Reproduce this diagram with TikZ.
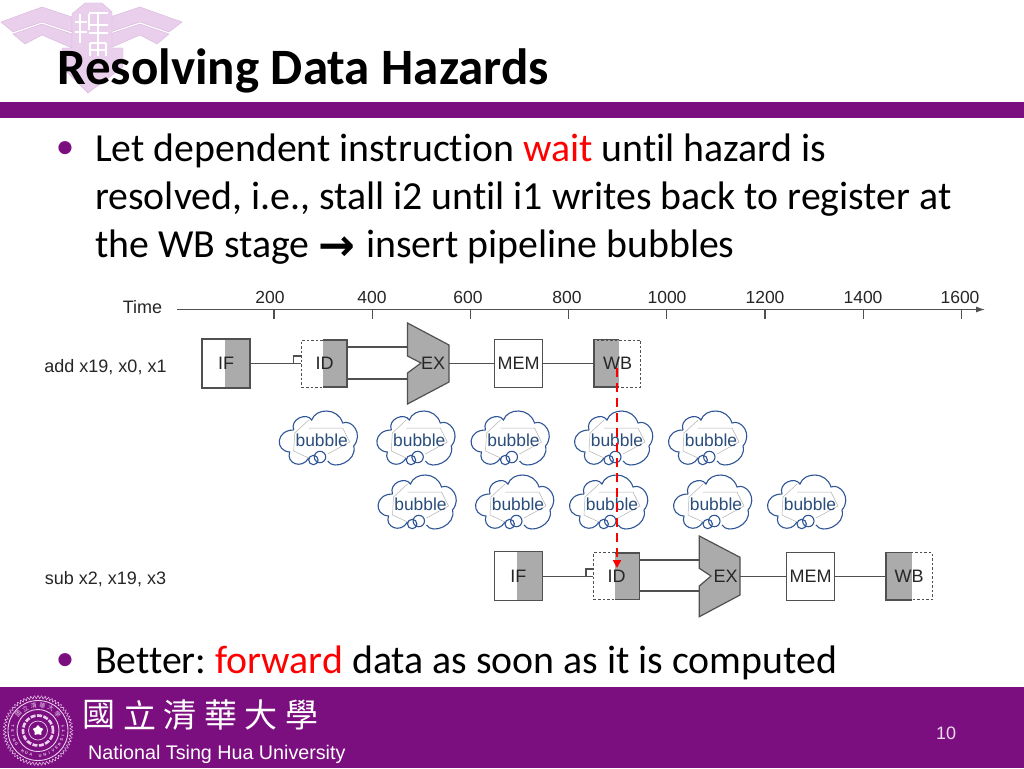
\documentclass[tikz,border=0pt]{standalone}
\usepackage{fontspec}
\setmainfont{Carlito}[Ligatures=CommonOff]
\setsansfont{Liberation Sans}
\newfontfamily\cjkfont{Noto Sans CJK TC}
\newfontfamily\arrowfont{DejaVu Sans}
\usetikzlibrary{arrows.meta}
\usetikzlibrary{shapes.geometric}
\definecolor{nthupurple}{HTML}{7C0F80}
\definecolor{crestpink}{HTML}{E9CFEC}
\definecolor{crestedge}{HTML}{D8B6DD}
\definecolor{stagegray}{HTML}{ABABAB}
\definecolor{linegray}{HTML}{505050}
\definecolor{cloudblue}{HTML}{2F5597}
\definecolor{cloudtext}{HTML}{2A4D7C}
\tikzset{
  bodytext/.style={anchor=base west, inner sep=0pt, font=\fontsize{39.8}{39.8}\selectfont},
  sanslabel/.style={inner sep=0pt, font=\sffamily\fontsize{18}{18}\selectfont, text=black!85},
  ticklabel/.style={inner sep=0pt, font=\sffamily\fontsize{17.5}{17.5}\selectfont, text=black!85},
  stagename/.style={inner sep=0pt, font=\sffamily\fontsize{18}{18}\selectfont, text=black!85},
  stagebox/.style={stagename, draw=linegray, line width=1.2pt, minimum width=#1, minimum height=48pt},
  ghostbox/.style={stagename, draw=linegray, line width=1pt, dash pattern=on 2.5pt off 2pt, minimum width=#1, minimum height=47pt},
  pipe/.style={draw=linegray, line width=1.2pt},
  graypart/.style={fill=stagegray, draw=linegray, line width=1.2pt},
  grayedge/.style={draw=linegray, line width=1.2pt},
  crest/.style={fill=crestpink, draw=crestedge, line width=0.4pt},
  hazard/.style={draw=red, line width=2.1pt, dash pattern=on 9pt off 6pt, -{Triangle[length=8pt,width=8pt]}},
  bubblecloud/.pic={
    \draw [gray!60, line width=0.5pt] (-10,-11) -- (24,-11) -- (31,3) -- (9,15) (-10,19) -- (-25,12) -- (-24,-6) -- (-10,-19);
    \draw [cloudblue, line width=1.1pt] (-25,-9) .. controls (-29,-20) and (-12,-27) .. (-7,-19)
      .. controls (-3,-31) and (19,-32) .. (24,-16) .. controls (33,-20) and (45,-5) .. (35,7)
      .. controls (39,22) and (15,32) .. (9,22);
    \draw [cloudblue, line width=1.1pt] (-10,19) .. controls (-17,31) and (-33,24) .. (-29,13)
      .. controls (-44,12) and (-43,-9) .. (-25,-9);
    \draw [cloudblue, line width=1.1pt, fill=white] (-5.3,21) circle (4.7pt) (1.3,18) circle (5.7pt);
    \node [inner sep=0pt, text=cloudtext, font=\sffamily\fontsize{17.4}{17.4}\selectfont] (-word) at (3,1) {bubble};
  }
}
\frenchspacing
\begin{document}
\begin{tikzpicture}[x=1pt,y=-1pt]
  \useasboundingbox (0,0) rectangle (1024,768);
  \fill [white] (0,0) rectangle (1024,768);
  % crest behind the title
  \draw [crest] (1,22) -- (42,7) -- (72,17) -- (72,32) -- (42,22) -- (13,32) -- cycle;
  \draw [crest] (13,34) -- (42,24) -- (72,34) -- (72,48) -- (42,35) -- (25,44) -- cycle;
  \draw [crest] (182,22) -- (140,7) -- (110,17) -- (110,32) -- (140,22) -- (169,32) -- cycle;
  \draw [crest] (169,34) -- (140,24) -- (110,34) -- (110,48) -- (140,35) -- (157,44) -- cycle;
  \draw [crest] (72,14) -- (85,3) -- (102,3) -- (112,12) -- (112,48) -- (123,48) -- (123,67) -- (88,93) -- (62,67) -- (62,48) -- (72,48) -- cycle;
  \draw [white, line width=2.2pt] (80,14) -- (80,43) (89,14) -- (89,30) (75,22) -- (87,22) (75,32) -- (87,32) (89,13) -- (108,13) (89,25) -- (108,25) (89,33) -- (108,33) (98,13) -- (98,42) (90,43) -- (106,43) (90,43) -- (90,56) (106,43) -- (106,56) (98,43) -- (98,56) (90,50) -- (106,50);
  % title and bands
  \node [anchor=base west, inner sep=0pt, font=\bfseries\fontsize{51}{51}\selectfont] (title) at (57,84) {Resolving Data Hazards};
  \fill [nthupurple] (0,102) rectangle (1024,118);
  \fill [nthupurple] (0,687) rectangle (1024,768);
  % text
  \node [text=nthupurple, inner sep=0pt, font=\fontsize{37}{37}\selectfont] (dotone) at (65,150) {•};
  \node [bodytext] (lineone) at (95,161) {Let dependent instruction \textcolor{red}{wait} until hazard is};
  \node [bodytext] (linetwo) at (95,209) {resolved, i.e., stall i2 until i1 writes back to register at};
  \node [bodytext] (linethree) at (95,257) {the WB stage};
  \node [inner sep=0pt, font=\arrowfont\bfseries\fontsize{44}{44}\selectfont] (arrowmark) at (337,249) {→};
  \node [bodytext] (linefour) at (366,257) {insert pipeline bubbles};
  \node [text=nthupurple, inner sep=0pt, font=\fontsize{37}{37}\selectfont] (dottwo) at (65,662) {•};
  \node [bodytext] (linefive) at (95,673) {Better: \textcolor{red}{forward} data as soon as it is computed};
  % time axis
  \node [sanslabel] (timelabel) at (142.5,307) {Time};
  \coordinate (axisstart) at (177,309.5);
  \coordinate (axisend) at (985,309.5);
  \draw [pipe, -{Latex[length=9pt,width=6pt]}] (axisstart) -- (axisend);
  \foreach \val/\lx [count=\i from 0] in {200/270,400/372,600/468,800/567,1000/667,1200/765,1400/863,1600/960} {
    \node [ticklabel] (tick\i) at (\lx,297) {\val};
    \draw [pipe] (274+\i*98.2,309.5) -- (274+\i*98.2,319);
  }
  % first instruction
  \node [sanslabel] (addlabel) at (105.5,367) {add x19, x0, x1};
  \fill [stagegray] (225,339) rectangle (250,388);
  \node [stagebox=48pt, minimum height=49pt] (ifone) at (226,363.5) {IF};
  \fill [stagegray] (323,340) rectangle (347,387);
  \node [ghostbox=45.5pt] (idone) at (324.5,363.5) {ID};
  \draw [grayedge] (323,340) -- (347,340) -- (347,387) -- (323,387);
  \coordinate (idoneright) at (347,363.5);
  \coordinate (exonetop) at (407.5,323);
  \draw [graypart] (exonetop) -- (449,345) -- (449,382) -- (407.5,404) -- (407.5,373) -- (421,363) -- (407.5,356) -- cycle;
  \node [stagename] (exone) at (433,363) {EX};
  \node [stagebox=48pt] (memone) at (518.7,363.5) {MEM};
  \fill [stagegray] (594,339.5) rectangle (619.3,387);
  \node [ghostbox=46.5pt] (wbone) at (617.5,363.5) {WB};
  \draw [grayedge] (619.3,339.5) -- (594,339.5) -- (594,387) -- (619.3,387);
  \coordinate (idonenotch) at (293.5,356);
  \coordinate (exoneup) at (407.5,347);
  \coordinate (exonedown) at (407.5,379);
  \coordinate (exoneout) at (449,363.5);
  \draw [pipe] (ifone.east) -- (idone.west);
  \draw [pipe] (idonenotch |- ifone.east) -- (idonenotch) -- (idonenotch -| idone.west);
  \draw [pipe] (idoneright |- exoneup) -- (exoneup);
  \draw [pipe] (idoneright |- exonedown) -- (exonedown);
  \draw [pipe] (exoneout) -- (memone.west);
  \draw [pipe] (memone.east) -- (wbone.west);
  % pipeline bubbles
  \foreach \cx [count=\i] in {318.7,416.3,510.5,614,708} \pic (cloudup\i) at (\cx,439) {bubblecloud};
  \foreach \cx [count=\i] in {417.5,515,609,713,807} \pic (clouddown\i) at (\cx,503) {bubblecloud};
  % second instruction
  \node [sanslabel] (sublabel) at (105.5,579) {sub x2, x19, x3};
  \fill [stagegray] (516.7,552) rectangle (542.3,600.7);
  \node [stagebox=48pt, minimum height=49pt] (iftwo) at (518.3,576.3) {IF};
  \fill [stagegray] (615,553) rectangle (639.3,599.7);
  \node [ghostbox=45.5pt] (idtwo) at (616.5,576.3) {ID};
  \draw [grayedge] (615,553) -- (639.3,553) -- (639.3,599.7) -- (615,599.7);
  \coordinate (idtworight) at (639.3,576.3);
  \coordinate (extwotop) at (699.3,536);
  \draw [graypart] (extwotop) -- (740,557.3) -- (740,595) -- (699.3,616.7) -- (699.3,586) -- (711,576) -- (699.3,568.3) -- cycle;
  \node [stagename] (extwo) at (725.7,576) {EX};
  \node [stagebox=48pt] (memtwo) at (810.5,576.3) {MEM};
  \fill [stagegray] (886,552.5) rectangle (912,600);
  \node [ghostbox=46.5pt] (wbtwo) at (909.2,576.3) {WB};
  \draw [grayedge] (912,552.5) -- (886,552.5) -- (886,600) -- (912,600);
  \coordinate (idtwonotch) at (586,569);
  \coordinate (extwoup) at (699.3,560);
  \coordinate (extwodown) at (699.3,591);
  \coordinate (extwoout) at (740,576.3);
  \draw [pipe] (iftwo.east) -- (idtwo.west);
  \draw [pipe] (idtwonotch |- iftwo.east) -- (idtwonotch) -- (idtwonotch -| idtwo.west);
  \draw [pipe] (idtworight |- extwoup) -- (extwoup);
  \draw [pipe] (idtworight |- extwodown) -- (extwodown);
  \draw [pipe] (extwoout) -- (memtwo.west);
  \draw [pipe] (memtwo.east) -- (wbtwo.west);
  % hazard
  \coordinate (hazardstart) at (617,368);
  \coordinate (hazardend) at (617,568);
  \draw [hazard] (hazardstart) -- (hazardend);
  % footer
  \foreach \a in {0,6,...,354} {
    \draw [crestpink, line width=0.5pt] ({38+35*cos(\a)},{730.5+35*sin(\a)}) -- ({38+32*cos(\a+3)},{730.5+32*sin(\a+3)}) -- ({38+35*cos(\a+6)},{730.5+35*sin(\a+6)});
  }
  \draw [crestpink, line width=0.9pt] (38,730.5) circle (30pt);
  \draw [crestpink, line width=0.9pt] (38,730.5) circle (21pt);
  \draw [crestpink, line width=2.6pt, dash pattern=on 5pt off 1.5pt] (38,730.5) circle (15pt);
  \draw [crestpink, line width=0.7pt] (38,730.5) circle (9.5pt);
  \foreach \ch [count=\i from 0] in {T,S,I,N,G,{},H,U,A,{},U,N,I,V,E,R,S,I,T,Y} {
    \node [inner sep=0pt, text=crestpink, rotate={90-(190-\i*10.5)}, font=\sffamily\bfseries\fontsize{4}{4}\selectfont] (sealtext\i) at ({38+25.5*cos(190-\i*10.5)},{730.5+25.5*sin(190-\i*10.5)}) {\ch};
  }
  \foreach \ch [count=\i from 0] in {國,立,清,華,大,學} {
    \node [inner sep=0pt, text=crestpink, rotate={270-(220+\i*20)}, font=\cjkfont\fontsize{6}{6}\selectfont] (sealhan\i) at ({38+25.5*cos(220+\i*20)},{730.5+25.5*sin(220+\i*20)}) {\ch};
  }
  \node [star, star points=5, fill=white, minimum size=11pt, inner sep=0pt] (sealstar) at (38,730.5) {};
  \foreach \ch [count=\i from 0] in {國,立,清,華,大,學} {
    \node [text=white, inner sep=0pt, font=\cjkfont\fontsize{33}{33}\selectfont] (uni\i) at (99+\i*40.6,715) {\ch};
  }
  \node [anchor=base west, inner sep=0pt, text=white, font=\sffamily\fontsize{19.7}{19.7}\selectfont] (uniname) at (88,759) {National Tsing Hua University};
  \node [inner sep=0pt, text=white!85!nthupurple, font=\sffamily\fontsize{18}{18}\selectfont] (pagenum) at (946,733) {10};
\end{tikzpicture}
\end{document}
